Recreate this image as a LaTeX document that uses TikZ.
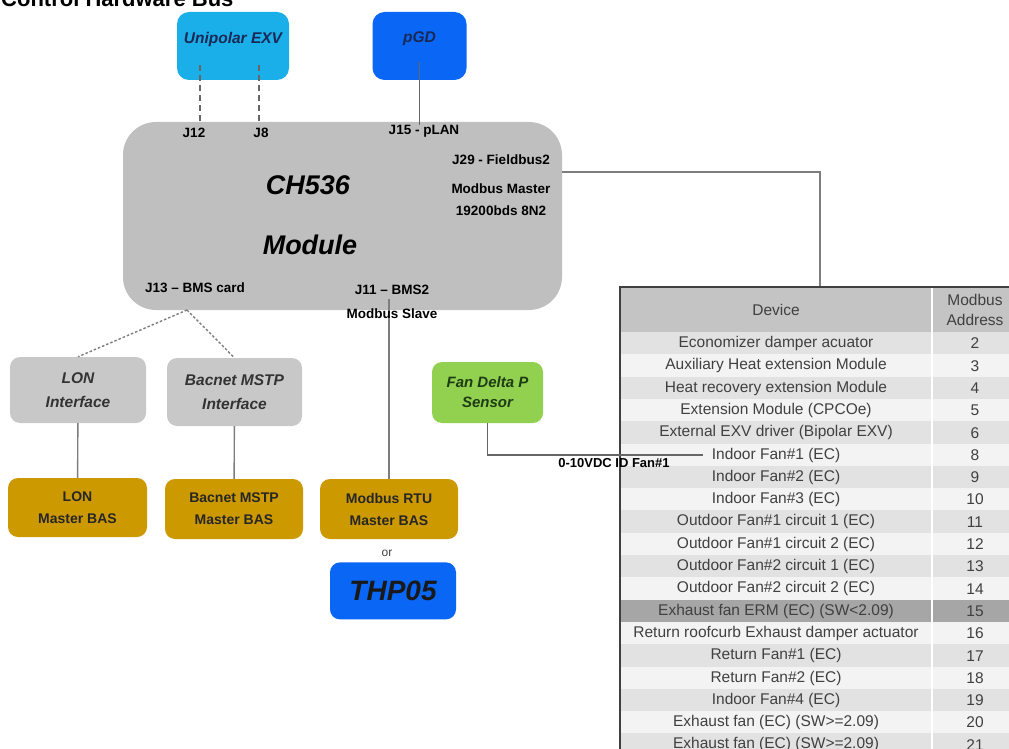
\documentclass[tikz,border=0pt]{standalone}
\usepackage{fontspec}
\setmainfont{Liberation Sans}
\usetikzlibrary{positioning}

\definecolor{exvblue}{RGB}{26,175,232}
\definecolor{pgdblue}{RGB}{10,102,245}
\definecolor{modgray}{RGB}{191,191,191}
\definecolor{ifgray}{RGB}{200,200,200}
\definecolor{basgold}{RGB}{204,153,0}
\definecolor{fangreen}{RGB}{146,208,80}
\definecolor{navytext}{RGB}{25,40,85}
\definecolor{greentext}{RGB}{30,60,20}
\definecolor{wiregray}{RGB}{125,125,125}
\definecolor{celltext}{RGB}{64,64,64}
\definecolor{rowdark}{RGB}{226,226,226}
\definecolor{rowlight}{RGB}{243,243,243}
\definecolor{rowhigh}{RGB}{166,166,166}
\definecolor{headgray}{RGB}{196,196,196}

\newcommand{\fsz}[2]{\fontsize{#1}{#2}\selectfont}

\begin{document}
\begin{tikzpicture}[
    x=1pt, y=-1pt,
    box/.style={
	rounded corners=10pt,
	inner sep=0pt,
	align=center
    },
    boxtitle/.style={font=\fsz{15.5}{24}\bfseries\itshape},
    bastitle/.style={font=\fsz{14}{22}\bfseries, text=black!85},
    port/.style={font=\fsz{13.5}{16}\bfseries, inner sep=0pt},
    wire/.style={draw=wiregray, line width=1.4pt},
    cell/.style={font=\fsz{15.5}{20}, text=celltext, inner sep=0pt, align=center}
]
	\path[use as bounding box] (0,0) rectangle (1009,749);
	\clip (0,0) rectangle (1009,749);

	\node[anchor=base west, inner sep=0pt, font=\fsz{22}{22}\bfseries] (title) at (1,7) {Control Hardware Bus};

	% top devices
	\node[box, boxtitle, fill=exvblue, text=navytext, rounded corners=12pt,
	    minimum width=112pt, minimum height=68pt, text depth=16pt] (exv) at (233,46) {Unipolar EXV};
	\node[box, boxtitle, fill=pgdblue, text=navytext, rounded corners=12pt,
	    minimum width=94pt, minimum height=68pt, text depth=17pt] (pgd) at (419.5,46) {pGD};

	% controller
	\node[box, fill=modgray, rounded corners=33pt,
	    minimum width=439pt, minimum height=188pt] (module) at (342.5,216) {};
	\node[font=\fsz{27}{27}\bfseries\itshape] (chname) at (308,185) {CH536};
	\node[font=\fsz{27}{27}\bfseries\itshape] (modname) at (310,245) {Module};

	\node[port] (j12) at (194,133) {J12};
	\node[port] (j8) at (261,133) {J8};
	\node[port] (j15) at (424,131) {J15 - pLAN};
	\node[port] (j29) at (501,160) {J29 - Fieldbus2};
	\node[port] (mbmaster) at (501,189) {Modbus Master};
	\node[port] (baud) at (501,211) {19200bds 8N2};
	\node[port] (j13) at (195,288) {J13 – BMS card};
	\node[port] (j11) at (392,290) {J11 – BMS2};

	% BMS side
	\node[box, boxtitle, fill=ifgray, text=black!80,
	    minimum width=136pt, minimum height=66pt] (lonif) at (78,390) {LON\\Interface};
	\node[box, boxtitle, fill=ifgray, text=black!80,
	    minimum width=135pt, minimum height=68pt] (bacif) at (234.5,392) {Bacnet MSTP\\Interface};

	\node[box, bastitle, fill=basgold, minimum width=139pt, minimum height=59pt] (lonbas) at (77.5,507.5) {LON\\Master BAS};
	\node[box, bastitle, fill=basgold, minimum width=138pt, minimum height=60pt] (bacbas) at (234,509) {Bacnet MSTP\\Master BAS};
	\node[box, bastitle, fill=basgold, minimum width=138pt, minimum height=60pt] (rtubas) at (389,509) {Modbus RTU\\Master BAS};

	\node[inner sep=0pt, font=\fsz{12}{12}, text=black!75, below=11pt of rtubas, xshift=-2pt] (orlbl) {or};
	\node[box, fill=pgdblue, font=\fsz{28}{28}\bfseries\itshape, text=black!90,
	    minimum width=126pt, minimum height=57pt, below=5pt of orlbl, xshift=6pt] (thp) {THP05};

	\node[box, font=\fsz{15}{20}\bfseries\itshape, fill=fangreen, text=greentext,
	    minimum width=111pt, minimum height=61pt] (fan) at (487.5,392.5) {Fan Delta P\\Sensor};

	% Fieldbus2 -> device table
	\draw[wire] ([yshift=44pt]module.east) -| (820,287);

	% device table
	\fill[headgray] (620,287) rectangle (1015,332);
	\node[cell] (devhead) at (776,310) {Device};
	\node[cell] (adrhead) at (975,310) {Modbus\\Address};
	\foreach \dev/\adr [count=\i from 0] in {
	    Economizer damper acuator/2,
	    Auxiliary Heat extension Module/3,
	    Heat recovery extension Module/4,
	    Extension Module (CPCOe)/5,
	    External EXV driver (Bipolar EXV)/6,
	    Indoor Fan\#1 (EC)/8,
	    Indoor Fan\#2 (EC)/9,
	    Indoor Fan\#3 (EC)/10,
	    Outdoor Fan\#1 circuit 1 (EC)/11,
	    Outdoor Fan\#1 circuit 2 (EC)/12,
	    Outdoor Fan\#2 circuit 1 (EC)/13,
	    Outdoor Fan\#2 circuit 2 (EC)/14,
	    Exhaust fan ERM (EC) (SW<2.09)/15,
	    Return roofcurb Exhaust damper actuator/16,
	    Return Fan\#1 (EC)/17,
	    Return Fan\#2 (EC)/18,
	    Indoor Fan\#4 (EC)/19,
	    Exhaust fan (EC) (SW>=2.09)/20,
	    Exhaust fan (EC) (SW>=2.09)/21}{
	    \pgfmathsetmacro{\rowy}{332+22.3*\i}
	    \ifnum\i=12 \def\rowcol{rowhigh}\else\ifodd\i \def\rowcol{rowlight}\else\def\rowcol{rowdark}\fi\fi
	    \fill[\rowcol] (620,\rowy) rectangle (1015,\rowy+22.3);
	    \node[cell] (dev\i) at (776,\rowy+11.5) {\dev};
	    \node[cell] (adr\i) at (975,\rowy+11.5) {\adr};
	}
	\draw[white, line width=1.5pt] (932,288) -- (932,749);
	\draw[black!75, line width=1.6pt] (620,750) -- (620,287) -- (1015,287);

	% Unipolar EXV -> J12 / J8
	\draw[wire, draw=black!60, line width=1.2pt, dash pattern=on 6pt off 4pt] ([xshift=-33pt,yshift=15pt]exv.south) -- ([xshift=-33pt]exv.south |- module.north);
	\draw[wire, draw=black!60, line width=1.2pt, dash pattern=on 6pt off 4pt] ([xshift=26pt,yshift=15pt]exv.south) -- ([xshift=26pt]exv.south |- module.north);

	% pGD -> J15
	\draw[wire, draw=black!60] ([yshift=18pt]pgd.south) -- (j15.north -| pgd.south);

	% J13 -> BMS cards
	\coordinate (bms) at (187,310);
	\draw[wire, dash pattern=on 2.5pt off 2pt] (bms) -- (lonif.north);
	\draw[wire, dash pattern=on 2.5pt off 2pt] (bms) -- (bacif.north);
	\draw[wire] (lonif) -- (lonbas);
	\draw[wire] (bacif) -- (bacbas);

	% J11 -> Modbus RTU
	\draw[wire] (rtubas.north) -- ++(0,-180);
	\node[port, below=14pt of j11, xshift=0pt] (slave) {Modbus Slave};

	% fan sensor -> Indoor Fan#1
	\coordinate (idfan) at (703,455);
	\draw[wire, draw=black!60] (fan.south) |- (idfan);
	\node[port, font=\fsz{13}{16}\bfseries] (fansig) at (614,463) {0-10VDC ID Fan\#1};
\end{tikzpicture}
\end{document}
